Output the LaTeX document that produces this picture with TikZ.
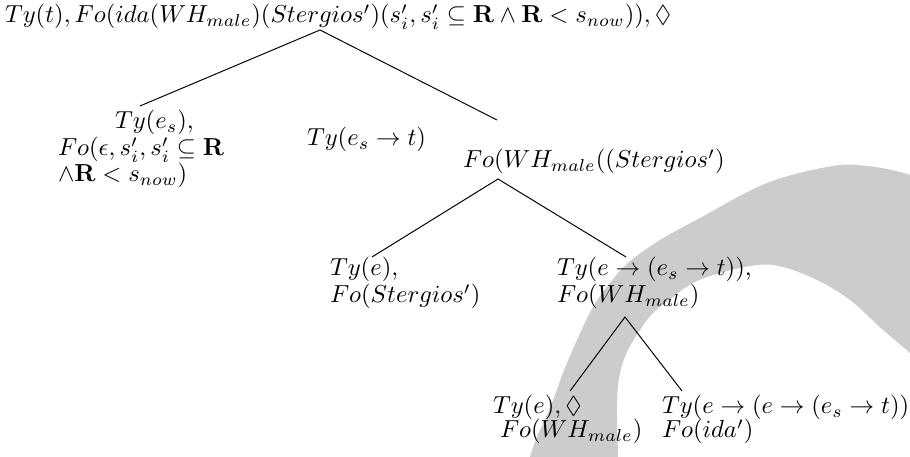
\documentclass[tikz,border=0pt]{standalone}
\usepackage{amssymb}
\usetikzlibrary{calc}
\definecolor{band}{HTML}{CCCCCC}
\tikzset{
  lbl/.style={inner sep=0pt, outer sep=0pt, anchor=base west},
  edge/.style={draw=black, line width=0.4pt}
}
\begin{document}
\begin{tikzpicture}[x={(0.4065pt,0pt)}, y={(0pt,-0.4065pt)}]
\useasboundingbox (0,0) rectangle (910,457);
% background band
\begin{scope}
\clip (0,0) rectangle (910,457);
\fill[band] plot[smooth, tension=0.6] coordinates {(528,470) (530,457) (537,437) (552,403) (563,373) (577,340) (593,307) (610,283) (628,263) (660,240) (700,218) (767,183) (833,166) (867,166) (900,172) (925,180)}
  -- plot[smooth, tension=0.6] coordinates {(925,368) (910,353) (883,330) (850,300) (817,280) (783,267) (757,265) (720,273) (693,283) (673,297) (653,313) (640,330) (628,350) (620,373) (617,403) (618,457) (618,470)} -- cycle;
\end{scope}
% nodes
\node[lbl] (root) at (5,23) {$Ty(t), Fo(ida(WH_{male})(Stergios')(s'_i, s'_i \subseteq \mathbf{R} \wedge \mathbf{R} < s_{now})), \Diamond$};
\node[lbl] (la) at (115,129) {$Ty(e_s)$,};
\node[lbl] (lb) at (58,156) {$Fo(\epsilon, s'_i, s'_i \subseteq \mathbf{R}$};
\node[lbl] (lc) at (58,182) {$\wedge\mathbf{R} < s_{now})$};
\node[lbl] (mid) at (307,146) {$Ty(e_s \rightarrow t)$};
\node[lbl] (fo1) at (463,168) {$Fo(WH_{male}((Stergios')$};
\node[lbl] (tea) at (330,276) {$Ty(e)$,};
\node[lbl] (teb) at (330,303) {$Fo(Stergios')$};
\node[lbl] (tra) at (557,276) {$Ty(e \rightarrow (e_s \rightarrow t))$,};
\node[lbl] (trb) at (557,303) {$Fo(WH_{male})$};
\node[lbl] (bla) at (493,414) {$Ty(e), \Diamond$};
\node[lbl] (blb) at (500,438) {$Fo(WH_{male})$};
\node[lbl] (bra) at (662,414) {$Ty(e \rightarrow (e \rightarrow (e_s \rightarrow t)))$};
\node[lbl] (brb) at (662,438) {$Fo(ida')$};
% edges
\draw[edge] ($(la.base west)+(25,-23)$) -- ($(root.base west)+(315,7)$) -- ($(fo1.base west)+(34,-48)$);
\draw[edge] ($(tea.base west)+(42,-19)$) -- ($(fo1.base west)+(35,11)$) -- ($(tra.base west)+(69,-19)$);
\draw[edge] ($(bla.base west)+(77,-23)$) -- ($(trb.base west)+(68,14)$) -- ($(bra.base west)+(20,-23)$);
\end{tikzpicture}
\end{document}
